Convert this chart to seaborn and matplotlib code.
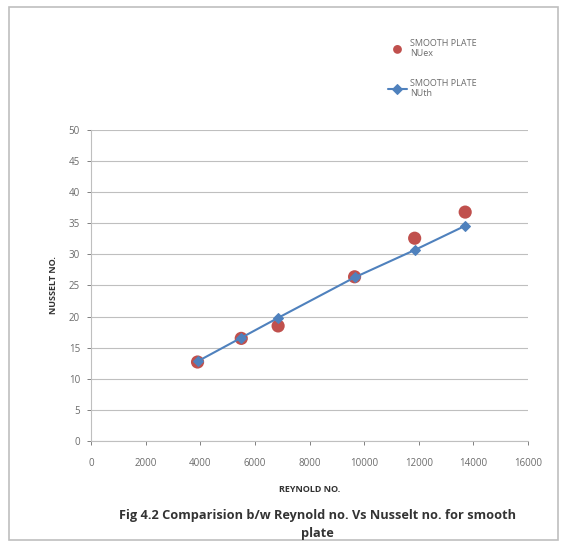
import matplotlib
matplotlib.use("Agg")
import matplotlib.pyplot as plt
import seaborn as sns
import pandas as pd
from matplotlib.patches import Rectangle

reynolds = [3900, 5500, 6850, 9650, 11850, 13700]
nu_ex = [12.7, 16.5, 18.5, 26.4, 32.6, 36.8]
nu_th = [12.8, 16.6, 19.8, 26.3, 30.7, 34.6]
label_ex = "SMOOTH PLATE\nNUex"
label_th = "SMOOTH PLATE\nNUth"
x_ticks = [0, 2000, 4000, 6000, 8000, 10000, 12000, 14000, 16000]
y_ticks = [0, 5, 10, 15, 20, 25, 30, 35, 40, 45, 50]

sns.set_theme(style="white")
plt.rcParams['font.family'] = ['Open Sans', 'DejaVu Sans']

df = pd.DataFrame({"Re": reynolds, "ex": nu_ex, "th": nu_th})

fig = plt.figure(figsize=(5.62, 5.45), dpi=100)
ax = fig.add_axes([0.162, 0.1908, 0.7775, 0.5707])

red = "#C0504D"
blue = "#4F81BD"

sns.scatterplot(data=df, x="Re", y="ex", ax=ax, color=red, s=90,
                edgecolor="none", label=label_ex, zorder=3)
sns.lineplot(data=df, x="Re", y="th", ax=ax, color=blue, marker="D",
             markersize=5, markeredgecolor=blue, linewidth=1.5,
             label=label_th, zorder=4)

ax.set_xlim(0, 16000)
ax.set_ylim(0, 50)
ax.set_xticks(x_ticks)
ax.set_yticks(y_ticks)
ax.tick_params(axis="both", labelsize=7, colors="#6b6b6b", length=3,
               width=0.6, direction="out", left=True, bottom=True)
ax.tick_params(axis="x", pad=9)
ax.tick_params(axis="y", pad=5)
ax.yaxis.grid(True, color="#BFBFBF", linewidth=0.8)
ax.xaxis.grid(False)
for side in ["top", "right"]:
    ax.spines[side].set_visible(False)
for side in ["left", "bottom"]:
    ax.spines[side].set_color("#BFBFBF")
    ax.spines[side].set_linewidth(0.8)

ax.set_xlabel("REYNOLD NO.", fontsize=6.5, fontweight="bold", color="#333333",
              labelpad=12)
ax.set_ylabel("NUSSELT NO.", fontsize=6.5, fontweight="bold", color="#333333",
              labelpad=8)

leg = ax.legend(loc="upper left", bbox_to_anchor=(0.66, 1.32), frameon=False,
                fontsize=6.5, labelspacing=2.3, handlelength=2.2,
                handletextpad=0.3)
leg.legend_handles[0].set_sizes([40])
for t in leg.get_texts():
    t.set_color("#6b6b6b")

fig.text(0.565, 0.010, "Fig 4.2 Comparision b/w Reynold no. Vs Nusselt no. for smooth\nplate",
         ha="center", va="bottom", fontsize=9.2, fontweight="bold", color="#333333",
         linespacing=1.5)

fig.patches.append(Rectangle((0.016, 0.009), 0.977, 0.978, transform=fig.transFigure,
                             fill=False, edgecolor="#BFBFBF", linewidth=1.2))

fig.savefig("out.png", dpi=100)
